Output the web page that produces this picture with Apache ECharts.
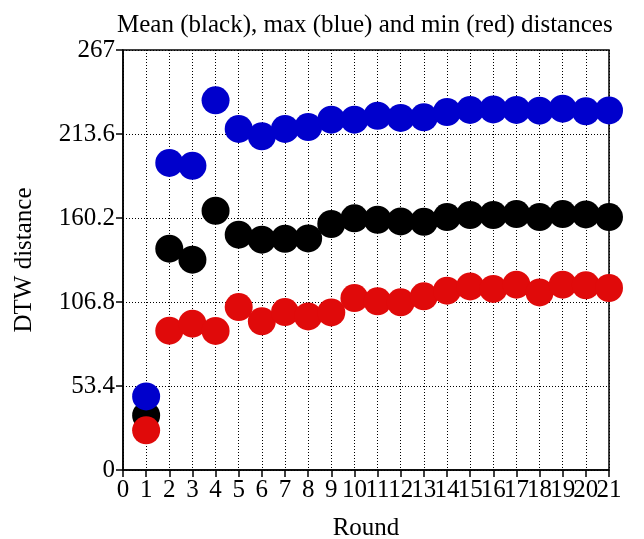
<!DOCTYPE html>
<html lang="en">
<head>
    <meta charset="UTF-8">
    <title>DTW distances</title>
    <style>
        body { margin: 0; background: #fff; }
    </style>
</head>
<body>
<div id="main" style="width: 644px;height: 539px;"></div>
<script src="https://cdn.jsdelivr.net/npm/echarts@6/dist/echarts.min.js"></script>
<script type="text/javascript">
    // rounds 1..21
    var rounds = [1, 2, 3, 4, 5, 6, 7, 8, 9, 10, 11, 12, 13, 14, 15, 16, 17, 18, 19, 20, 21];
    var meanDist = [34.7, 140.7, 133.7, 164.8, 149.6, 146.4, 147.0, 147.2, 156.4, 160.0, 159.1,
        158.0, 157.8, 160.8, 162.1, 162.1, 162.7, 160.8, 162.7, 162.5, 160.8];
    var maxDist = [46.8, 195.2, 193.4, 235.0, 216.8, 212.1, 216.8, 218.0, 222.7, 222.7, 225.2,
        223.8, 224.2, 227.6, 228.9, 229.2, 228.9, 228.4, 229.7, 228.0, 228.6];
    var minDist = [25.2, 88.6, 93.0, 88.4, 103.6, 94.5, 100.4, 97.6, 100.2, 109.3, 107.2,
        106.6, 110.4, 114.0, 116.7, 115.1, 117.8, 112.9, 117.8, 117.4, 115.7];
    var yTicks = ['0', '53.4', '106.8', '160.2', '213.6', '267'];

    function pairs(vals) {
        let out = []
        for (let i = 0; i < rounds.length; i++) {
            out.push([rounds[i], vals[i]])
        }
        return out
    }

    let myChart = echarts.init(document.getElementById('main'));
    const font = '"Liberation Serif", "Times New Roman", serif';
    const dotted = {show: true, lineStyle: {color: '#000', type: [1, 2], width: 1}};
    const labelStyle = {fontFamily: font, fontSize: 25, color: '#000', margin: 8,
        hideOverlap: false, showMinLabel: true, showMaxLabel: true};
    const option = {
        animation: false,
        title: {
            text: 'Mean (black), max (blue) and min (red) distances',
            left: 112,
            top: 8,
            textStyle: {fontFamily: font, fontSize: 25, fontWeight: 'normal', color: '#000'}
        },
        grid: {
            left: 123, right: 35, top: 50, bottom: 69,
            outerBoundsMode: 'none',
            show: true, borderColor: '#000', borderWidth: 1.5
        },
        xAxis: [
            {
                type: 'value',
                min: 0, max: 21, interval: 1,
                name: 'Round',
                nameLocation: 'middle',
                nameGap: 46,
                nameTextStyle: {fontFamily: font, fontSize: 25, color: '#000'},
                axisLine: {lineStyle: {color: '#000', width: 1.5}},
                axisTick: {length: 7, lineStyle: {color: '#000', width: 1.5}},
                // even rounds here, odd rounds on the overlay axis (labels touch each other)
                axisLabel: Object.assign({}, labelStyle, {
                    formatter: function (v) { return v % 2 === 0 ? String(v) : ''; }
                }),
                splitLine: dotted
            },
            {
                type: 'value',
                position: 'bottom',
                min: 0, max: 21, interval: 1,
                axisLine: {show: false},
                axisTick: {show: false},
                axisLabel: Object.assign({}, labelStyle, {
                    formatter: function (v) { return v % 2 === 1 ? String(v) : ''; }
                }),
                splitLine: {show: false}
            }
        ],
        yAxis: {
            type: 'value',
            min: 0, max: 267, interval: 53.4,
            name: 'DTW distance',
            nameLocation: 'middle',
            nameRotate: 90,
            nameGap: 86,
            nameTextStyle: {fontFamily: font, fontSize: 25, color: '#000'},
            axisLine: {show: true, lineStyle: {color: '#000', width: 1.5}},
            axisTick: {show: true, length: 7, lineStyle: {color: '#000', width: 1.5}},
            axisLabel: {
                fontFamily: font, fontSize: 25, color: '#000', margin: 8,
                showMinLabel: true, showMaxLabel: true,
                formatter: function (v) {
                    return yTicks[Math.round(v / 53.4)];
                }
            },
            splitLine: dotted
        },
        series: [
            {name: 'mean', type: 'scatter', symbolSize: 28, itemStyle: {color: '#000000', opacity: 1}, data: pairs(meanDist)},
            {name: 'min', type: 'scatter', symbolSize: 28, itemStyle: {color: '#e00a0a', opacity: 1}, data: pairs(minDist)},
            {name: 'max', type: 'scatter', symbolSize: 28, itemStyle: {color: '#0000cc', opacity: 1}, data: pairs(maxDist)}
        ]
    };
    myChart.setOption(option);
</script>
</body>
</html>
